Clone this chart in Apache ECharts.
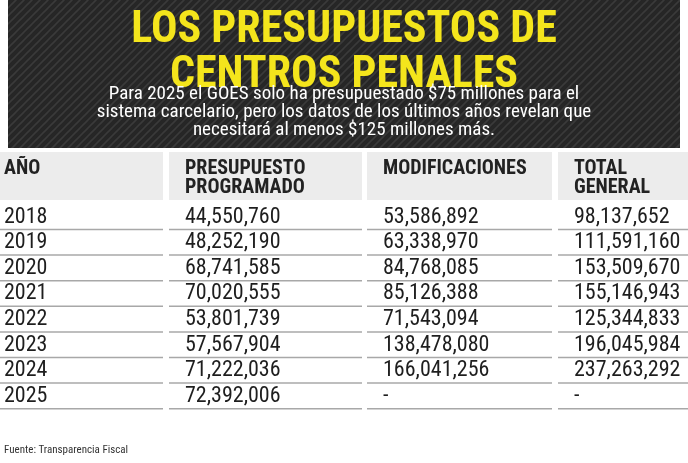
<!DOCTYPE html>
<html><head><meta charset="utf-8">
<script src="https://cdn.jsdelivr.net/npm/echarts@6/dist/echarts.min.js"></script>
<style>html,body{margin:0;padding:0;background:#fff}#chart{width:688px;height:463px}</style>
</head><body><div id="chart"></div>
<script>
const title = ["LOS PRESUPUESTOS DE", "CENTROS PENALES"];
const subtitle = ["Para 2025 el GOES solo ha presupuestado $75 millones para el",
  "sistema carcelario, pero los datos de los últimos años revelan que",
  "necesitará al menos $125 millones más."];
const headers = [["AÑO"], ["PRESUPUESTO", "PROGRAMADO"], ["MODIFICACIONES"], ["TOTAL", "GENERAL"]];
const years = ["2018", "2019", "2020", "2021", "2022", "2023", "2024", "2025"];
const programado = ["44,550,760", "48,252,190", "68,741,585", "70,020,555", "53,801,739", "57,567,904", "71,222,036", "72,392,006"];
const modificaciones = ["53,586,892", "63,338,970", "84,768,085", "85,126,388", "71,543,094", "138,478,080", "166,041,256", "-"];
const totalGeneral = ["98,137,652", "111,591,160", "153,509,670", "155,146,943", "125,344,833", "196,045,984", "237,263,292", "-"];
const source = "Fuente: Transparencia Fiscal";

const FONT = '"Roboto Condensed", "Liberation Sans Narrow", Roboto, sans-serif';
const colX = [0, 169, 367, 558];
const colW = [163, 193, 185, 130];
const rowTop = 205, rowH = 25.6;

// stripe pattern for header box
const pc = document.createElement('canvas');
pc.width = 8; pc.height = 8;
const pctx = pc.getContext('2d');
pctx.fillStyle = '#262626'; pctx.fillRect(0, 0, 8, 8);
pctx.strokeStyle = '#3a3a3a'; pctx.lineWidth = 1.6;
pctx.beginPath(); pctx.moveTo(-2, 10); pctx.lineTo(10, -2); pctx.moveTo(-2, 2); pctx.lineTo(2, -2); pctx.moveTo(6, 10); pctx.lineTo(10, 6); pctx.stroke();

const els = [];
els.push({ type: 'rect', shape: { x: 8, y: 0, width: 672, height: 148 }, style: { fill: { image: pc, repeat: 'repeat' } } });
title.forEach((t, i) => els.push({ type: 'text', x: 344, y: 31 + i * 45, style: {
  text: t, font: 'bold 44px ' + FONT, fill: '#f4e51c', align: 'center', verticalAlign: 'middle' } }));
subtitle.forEach((t, i) => els.push({ type: 'text', x: 344, y: 94 + i * 18, style: {
  text: t, font: '19px ' + FONT, fill: '#ffffff', align: 'center', verticalAlign: 'middle' } }));

headers.forEach((h, c) => {
  els.push({ type: 'rect', shape: { x: colX[c], y: 152, width: colW[c], height: 48 }, style: { fill: '#ececec' } });
  h.forEach((line, k) => els.push({ type: 'text', x: colX[c] + (c === 0 ? 4 : 16), y: 169 + k * 19, style: {
    text: line, font: 'bold 20px ' + FONT, fill: '#222', verticalAlign: 'middle' } }));
});

const cols = [years, programado, modificaciones, totalGeneral];
years.forEach((y, r) => {
  const cy = rowTop + r * rowH + 12;
  cols.forEach((arr, c) => {
    els.push({ type: 'text', x: colX[c] + (c === 0 ? 4 : 16), y: cy, style: {
      text: arr[r], font: '22px ' + FONT, fill: '#1e1e1e', verticalAlign: 'middle' } });
    els.push({ type: 'line', shape: { x1: colX[c], y1: cy + 12.5, x2: colX[c] + colW[c], y2: cy + 12.5 },
      style: { stroke: '#a8a8a8', lineWidth: 1.5 } });
  });
});
els.push({ type: 'text', x: 4, y: 450, style: { text: source, font: '11px ' + FONT, fill: '#333', verticalAlign: 'middle' } });

const chart = echarts.init(document.getElementById('chart'), null, { renderer: 'canvas' });
chart.setOption({ backgroundColor: '#fff', animation: false, graphic: { elements: els } });
</script></body></html>
